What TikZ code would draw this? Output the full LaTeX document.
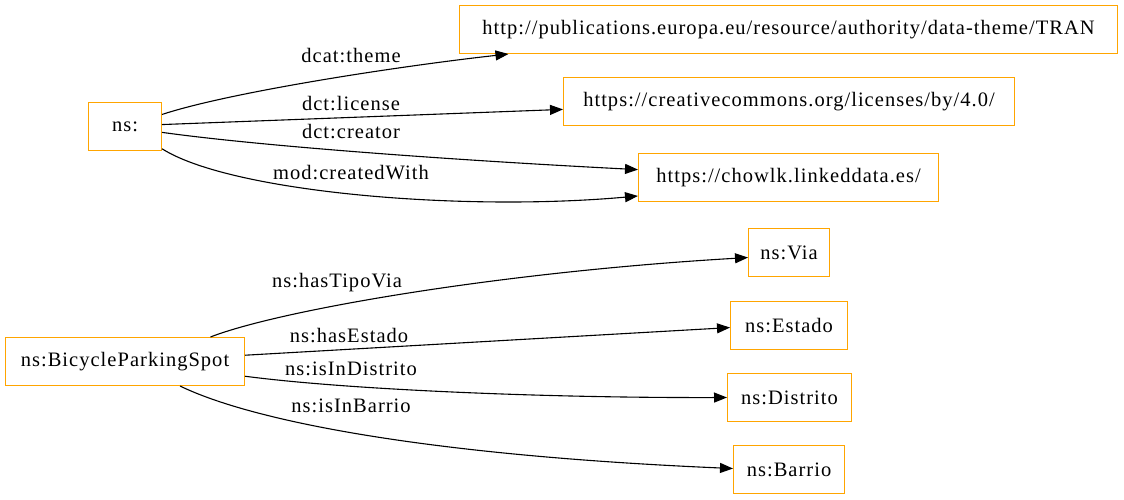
\documentclass[tikz,border=0pt]{standalone}
\usepackage{fontspec}
\newfontfamily\gvfont{Liberation Serif}[LetterSpace=5]
\usepackage{tikz}
\usetikzlibrary{arrows.meta}
\definecolor{gvorange}{RGB}{255,165,0}
\begin{document}
\begin{tikzpicture}[x=1pt,y=-1pt,line width=1pt,
  font=\gvfont\fontsize{20.5}{22}\selectfont,
  box/.style={draw=gvorange,minimum width=#1,minimum height=48pt,inner sep=0pt},
  rel/.style={-{Triangle[length=13pt,width=10pt]},black,line width=1.1pt},
  lbl/.style={inner sep=0pt}]
\useasboundingbox (0,0) rectangle (1124,499);
\node[box=73pt] (ns) at (125,126.5) {ns:};
\node[box=658pt] (tran) at (788.5,29.5) {http://publications.europa.eu/resource/authority/data-theme/TRAN};
\node[box=451pt] (cc) at (789,101.5) {https://creativecommons.org/licenses/by/4.0/};
\node[box=300pt] (chowlk) at (788.5,177.5) {https://chowlk.linkeddata.es/};
\node[box=239pt] (bps) at (125,361.5) {ns:BicycleParkingSpot};
\node[box=81pt] (via) at (789,252.5) {ns:Via};
\node[box=117pt] (estado) at (789,325.5) {ns:Estado};
\node[box=124pt] (distrito) at (789.5,397.5) {ns:Distrito};
\node[box=111pt] (barrio) at (789,469.5) {ns:Barrio};
\draw[rel] (ns.18.2) .. controls (230,92) and (400,66) .. (tran.185.1);
\draw[rel] (ns.3.1) -- (cc.182);
\draw[rel] (ns.-9.3) .. controls (260,146) and (450,160) .. (chowlk.177.3);
\draw[rel] (ns.-31.1) .. controls (230,192) and (460,212) .. (chowlk.187.2);
\draw[rel] (bps.16.8) .. controls (280,310) and (500,272) .. (via.187);
\draw[rel] (bps.3.8) -- (estado.182.9);
\draw[rel] (bps.-7.6) .. controls (350,390) and (550,398) .. (distrito.180.9);
\draw[rel] (bps.-24.2) .. controls (250,420) and (420,455) .. (barrio.179);
\node[lbl] (l1) at (351,56) {dcat:theme};
\node[lbl] (l2) at (351,104) {dct:license};
\node[lbl] (l3) at (351,132) {dct:creator};
\node[lbl] (l4) at (351,173) {mod:createdWith};
\node[lbl] (l5) at (337,283) {ns:hasTipoVia};
\node[lbl] (l6) at (349,336) {ns:hasEstado};
\node[lbl] (l7) at (351,369) {ns:isInDistrito};
\node[lbl] (l8) at (351,406) {ns:isInBarrio};
\end{tikzpicture}
\end{document}
